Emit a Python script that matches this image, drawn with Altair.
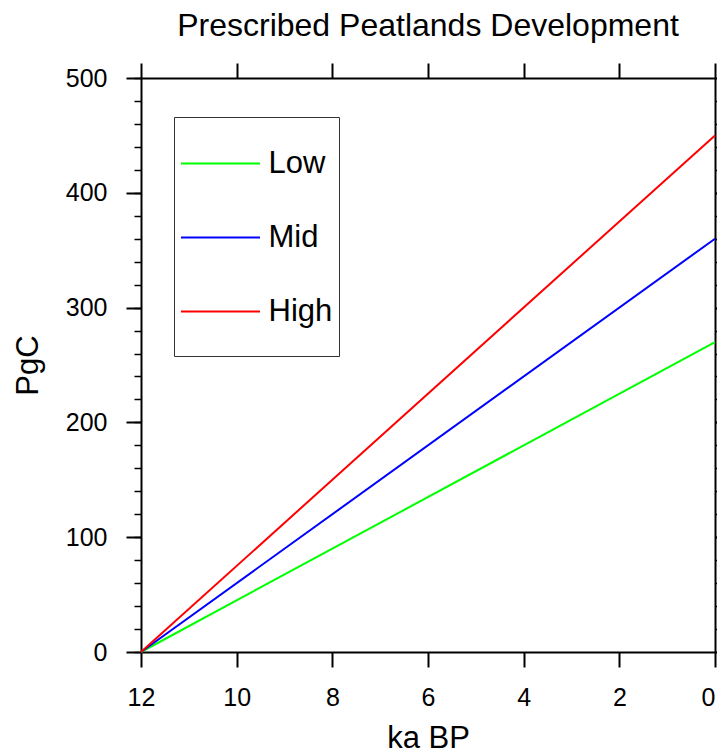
import altair as alt
import pandas as pd

# Data
ka_bp = [12, 0]
low = [0, 270]
mid = [0, 360]
high = [0, 450]
series_names = ["Low", "Mid", "High"]
series_colors = ["#00FF00", "#0000FF", "#FF0000"]
x_ticks = [12, 10, 8, 6, 4, 2, 0]
y_ticks = [0, 100, 200, 300, 400, 500]
y_minor = list(range(0, 501, 20))

rows = []
for name, vals in zip(series_names, [low, mid, high]):
    for k, v in zip(ka_bp, vals):
        rows.append({"ka": k, "pgc": v, "series": name})
df = pd.DataFrame(rows)

FONT = "Liberation Sans"
xscale = alt.Scale(domain=[0, 12], reverse=True, nice=False, zero=False)
yscale = alt.Scale(domain=[0, 500], nice=False, zero=False)

common = dict(grid=False, domainColor="black", tickColor="black", labelColor="black",
              titleColor="black", labelFont=FONT, titleFont=FONT, titleFontWeight="normal",
              labelFlush=False)

main = alt.Chart(df).mark_line(strokeWidth=2, clip=False).encode(
    x=alt.X("ka:Q", scale=xscale,
            axis=alt.Axis(orient="bottom", values=x_ticks, tickSize=15, tickWidth=2,
                          domainWidth=2, labelFontSize=25, labelPadding=18,
                          labelAlign={"condition": {"test": "datum.value == 0", "value": "right"},
                                      "value": "center"},
                          title="ka BP", titleFontSize=31, titlePadding=13, **common)),
    y=alt.Y("pgc:Q", scale=yscale,
            axis=alt.Axis(orient="left", values=y_ticks, tickSize=15, tickWidth=2,
                          domainWidth=2, labelFontSize=25, labelPadding=19,
                          title="PgC", titleFontSize=31, titlePadding=21, **common)),
    color=alt.Color("series:N",
                    scale=alt.Scale(domain=series_names, range=series_colors),
                    legend=alt.Legend(title=" ", titleOrient="bottom", titleFontSize=12,
                                      titlePadding=12,
                                      orient="none", legendX=33, legendY=39,
                                      symbolType="M-1.013,0H1.013", symbolSize=6084,
                                      symbolStrokeWidth=2, labelFontSize=31, labelFont=FONT,
                                      labelColor="black", labelOffset=8, padding=6.5,
                                      rowPadding=19, strokeColor="#333333",
                                      fillColor="white", labelLimit=300)),
    detail="series:N",
)

top_right = alt.Chart(df).mark_line(opacity=0).encode(
    x=alt.X("ka:Q", scale=xscale,
            axis=alt.Axis(orient="top", values=x_ticks, tickSize=15, tickWidth=2,
                          domainWidth=2, labels=False, title=None, **common)),
    y=alt.Y("pgc:Q", scale=yscale,
            axis=alt.Axis(orient="right", values=y_ticks, tickSize=12, tickWidth=2,
                          domainWidth=2, labels=False, title=None, **common)),
    detail="series:N",
)

minor_left = alt.Chart(df).mark_line(opacity=0).encode(
    x=alt.X("ka:Q", scale=xscale, axis=None),
    y=alt.Y("pgc:Q", scale=yscale,
            axis=alt.Axis(orient="left", values=y_minor, tickSize=7, tickWidth=1.5,
                          domain=False, labels=False, title=None, **common)),
    detail="series:N",
)

minor_right = alt.Chart(df).mark_line(opacity=0).encode(
    x=alt.X("ka:Q", scale=xscale, axis=None),
    y=alt.Y("pgc:Q", scale=yscale,
            axis=alt.Axis(orient="right", values=y_minor, tickSize=8, tickWidth=1.5,
                          domain=False, labels=False, title=None, **common)),
    detail="series:N",
)

chart = alt.layer(minor_left, minor_right, top_right, main).resolve_axis(
    x="independent", y="independent"
).properties(
    width=574,
    height=574,
    title=alt.Title("Prescribed Peatlands Development", fontSize=32, font=FONT,
                    fontWeight="normal", color="black", offset=19),
    autosize=alt.AutoSizeParams(type="none"),
    padding={"left": 133, "top": 70, "right": 2, "bottom": 96},
).configure_view(stroke=None).configure(background="white")

chart.save("out.html", embed_options={"renderer": "svg", "actions": False})
